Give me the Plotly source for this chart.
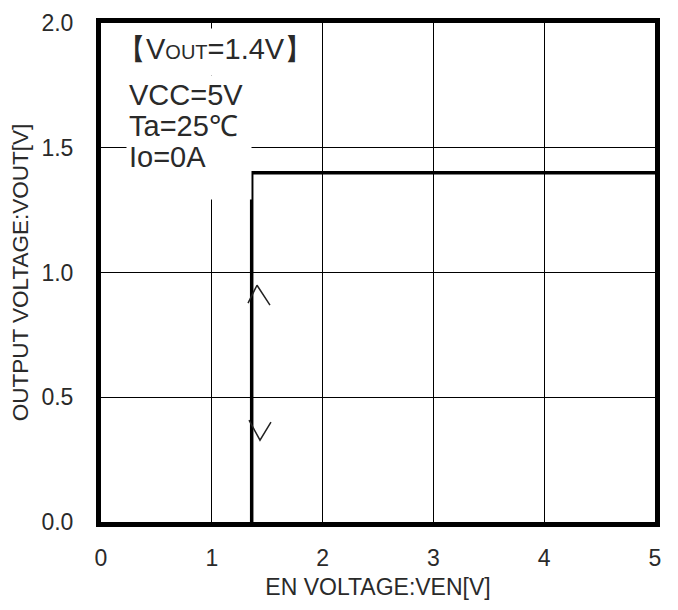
import plotly.graph_objects as go

# data
en_voltage = [1.36, 1.36, 5.0]
vout = [0.0, 1.4, 1.4]
# hysteresis direction marks (rising / falling)
rise_x = [1.327, 1.408, 1.525]
rise_y = [0.877, 0.949, 0.869]
fall_x = [1.336, 1.435, 1.534]
fall_y = [0.408, 0.328, 0.400]

x_ticks = [0, 1, 2, 3, 4, 5]
y_ticks = [0.0, 0.5, 1.0, 1.5, 2.0]

cond_title = "【V<span style='font-size:20px'>OUT</span>=1.4V】"
cond_lines = ["VCC=5V", "Ta=25℃", "Io=0A"]
cond_line_y = [1.71, 1.586, 1.461]

FONT = "Liberation Sans, Arial, sans-serif"
TXT = "#2a2a2a"

fig = go.Figure()
fig.add_trace(go.Scatter(x=en_voltage, y=vout, mode="lines",
                         line=dict(color="black", width=3.5),
                         showlegend=False, hoverinfo="skip", cliponaxis=False))
for xs, ys in ((rise_x, rise_y), (fall_x, fall_y)):
    fig.add_trace(go.Scatter(x=xs, y=ys, mode="lines",
                             line=dict(color="#222222", width=1.5),
                             showlegend=False, hoverinfo="skip"))

# white boxes behind the condition texts (they hide the grid there)
fig.add_annotation(x=0.13, y=1.98, xref="x", yref="y", xanchor="left", yanchor="top",
                   text=" ", showarrow=False, bgcolor="white", borderpad=0,
                   width=205, height=46)
fig.add_annotation(x=0.225, y=1.79, xref="x", yref="y", xanchor="left", yanchor="top",
                   text=" ", showarrow=False, bgcolor="white", borderpad=0,
                   width=124, height=123)

fig.add_annotation(x=0.13, y=1.895, xref="x", yref="y", xanchor="left", yanchor="middle",
                   text=cond_title, showarrow=False,
                   font=dict(family=FONT, size=29, color=TXT))
for t, yy in zip(cond_lines, cond_line_y):
    fig.add_annotation(x=0.235, y=yy, xref="x", yref="y", xanchor="left", yanchor="middle",
                       text=t, showarrow=False,
                       font=dict(family=FONT, size=29, color=TXT))

fig.update_xaxes(range=[0, 5], tickvals=x_ticks, ticktext=[str(v) for v in x_ticks],
                 showgrid=True, gridcolor="black", gridwidth=1, zeroline=False,
                 showline=True, mirror=True, linecolor="black", linewidth=5,
                 ticks="", ticklabelstandoff=11,
                 tickfont=dict(family=FONT, size=23, color=TXT),
                 title=dict(text="EN VOLTAGE:VEN[V]", standoff=11,
                            font=dict(family=FONT, size=23, color=TXT)))
fig.update_yaxes(range=[0, 2], tickvals=y_ticks, ticktext=[f"{v:.1f}" for v in y_ticks],
                 showgrid=True, gridcolor="black", gridwidth=1, zeroline=False,
                 showline=True, mirror=True, linecolor="black", linewidth=5,
                 ticks="", ticklabelstandoff=18,
                 tickfont=dict(family=FONT, size=23, color=TXT),
                 title=dict(text="OUTPUT VOLTAGE:VOUT[V]", standoff=8,
                            font=dict(family=FONT, size=22.5, color=TXT)))

# page body has an 8px default margin, so the figure is sized to fit inside the window
fig.update_layout(width=670, height=602,
                  margin=dict(l=93, r=23, t=14.5, b=88, autoexpand=False),
                  plot_bgcolor="white", paper_bgcolor="white")

fig.write_html("out.html")
